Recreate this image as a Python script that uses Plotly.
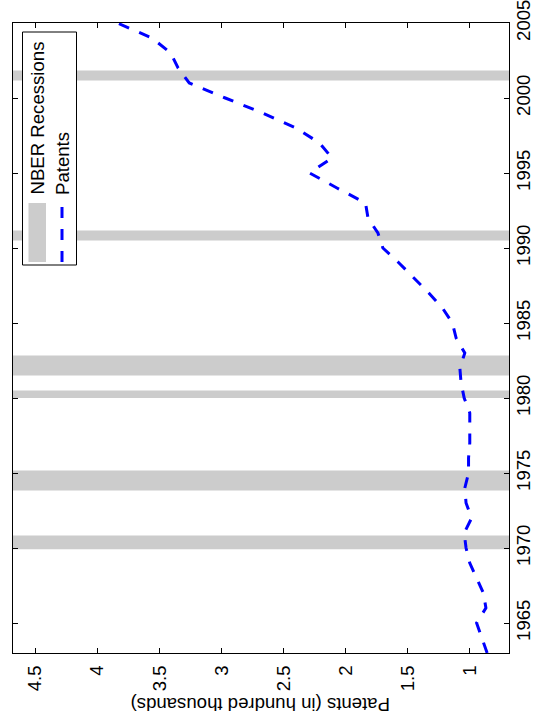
import plotly.graph_objects as go

years = list(range(1963, 2006))
patents = [0.86, 0.90, 0.945, 0.87, 0.89, 0.945, 1.00, 1.03, 1.045, 0.985,
           1.03, 1.04, 1.01, 1.01, 1.00, 1.00, 1.00, 1.045, 1.07, 1.08,
           1.04, 1.11, 1.14, 1.22, 1.33, 1.45, 1.57, 1.70, 1.74, 1.82,
           1.84, 2.07, 2.29, 2.11, 2.21, 2.40, 2.67, 2.97, 3.26, 3.35,
           3.41, 3.56, 3.84]
recession_start = [1969.92, 1973.83, 1980.0, 1981.5, 1990.5, 2001.17]
recession_end = [1970.83, 1975.17, 1980.5, 1982.83, 1991.17, 2001.83]
x_ticks = [1, 1.5, 2, 2.5, 3, 3.5, 4, 4.5]
x_ticktext = ["1", "1.5", "2", "2.5", "3", "3.5", "4", "4.5"]
y_ticks = [1965, 1970, 1975, 1980, 1985, 1990, 1995, 2000, 2005]

FONT = "Liberation Sans, Arial, Helvetica, sans-serif"
FS = 18.6
W, H = 537, 725
L, R, T, B = 13, 28, 23, 72
PW, PH = W - L - R, H - T - B

def px(x):
    return (x - L) / PW

def py(y):
    return (H - B - y) / PH

fig = go.Figure()
fig.add_trace(go.Scatter(x=patents, y=years, mode="lines",
                         line=dict(color="#0000ff", width=3, dash="11px,11px"),
                         showlegend=False, hoverinfo="skip"))

shapes = []
for s, e in zip(recession_start, recession_end):
    shapes.append(dict(type="rect", xref="paper", yref="y", x0=0, x1=1, y0=s, y1=e,
                       fillcolor="#cccccc", line=dict(width=0), layer="below"))
# legend box
shapes.append(dict(type="rect", xref="paper", yref="paper", x0=px(22.5), x1=px(76.5),
                   y0=py(265), y1=py(32), fillcolor="white",
                   line=dict(color="black", width=1), layer="above"))
shapes.append(dict(type="rect", xref="paper", yref="paper", x0=px(28.5), x1=px(46),
                   y0=py(262), y1=py(203), fillcolor="#cccccc",
                   line=dict(width=0), layer="above"))
shapes.append(dict(type="line", xref="paper", yref="paper", x0=px(62), x1=px(62),
                   y0=py(262), y1=py(204),
                   line=dict(color="#0000ff", width=3, dash="11px,11px"), layer="above"))

annotations = [
    dict(text="Patents (in hundred thousands)", xref="paper", yref="paper",
         x=0.5, y=py(705), xanchor="center", yanchor="middle", textangle=180,
         showarrow=False, font=dict(family=FONT, size=FS, color="black")),
    dict(text="NBER Recessions", xref="paper", yref="paper",
         x=px(37), y=py(197), xanchor="center", yanchor="bottom", textangle=-90,
         showarrow=False, font=dict(family=FONT, size=FS, color="black")),
    dict(text="Patents", xref="paper", yref="paper",
         x=px(62.5), y=py(197), xanchor="center", yanchor="bottom", textangle=-90,
         showarrow=False, font=dict(family=FONT, size=FS, color="black")),
]

fig.update_layout(
    width=W, height=H,
    margin=dict(l=L, r=R, t=T, b=B, pad=0, autoexpand=False),
    paper_bgcolor="white", plot_bgcolor="white",
    font=dict(family=FONT, size=FS, color="black"),
    shapes=shapes, annotations=annotations,
    xaxis=dict(range=[4.68, 0.684], tickvals=x_ticks, ticktext=x_ticktext,
               tickangle=-90, ticks="inside", ticklen=5, tickcolor="black",
               showline=True, linecolor="black", linewidth=1, mirror="ticks",
               showgrid=False, zeroline=False, ticklabelstandoff=4,
               ticklabeloverflow="allow", automargin=False),
    yaxis=dict(range=[1963, 2005], tickvals=y_ticks, side="right",
               tickangle=-90, ticks="inside", ticklen=5, tickcolor="black",
               showline=True, linecolor="black", linewidth=1, mirror="ticks",
               showgrid=False, zeroline=False, ticklabelstandoff=-2,
               ticklabeloverflow="allow", automargin=False),
)

fig.write_html("out.html")
